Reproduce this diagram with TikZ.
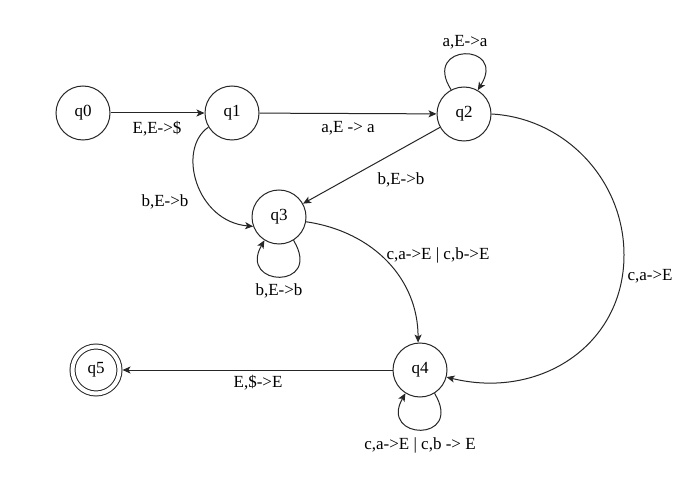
\documentclass[tikz,border=0pt]{standalone}
\usepackage{fontspec}
\setmainfont{Liberation Serif}
\usetikzlibrary{arrows.meta}
\begin{document}
\begin{tikzpicture}[x=1pt,y=-1pt,
  state/.style={draw=black!85, circle, line width=1pt, minimum size=54pt, inner sep=0pt, font=\fontsize{17}{20}\selectfont},
  final/.style={draw=black!85, circle, line width=1pt, double, double distance=4pt, minimum size=47pt, inner sep=0pt, outer sep=3pt, font=\fontsize{17}{20}\selectfont},
  lbl/.style={inner sep=0pt, font=\fontsize{17}{20}\selectfont},
  trans/.style={draw=black!85, line width=1pt, -{Stealth[length=8pt,width=7pt,inset=2pt]}}]
\useasboundingbox (0,0) rectangle (690,486);
\fill[white] (0,0) rectangle (690,486);

\node[state] (q0) at (83,113) {q0};
\node[state] (q1) at (232,113) {q1};
\node[state] (q2) at (464,114) {q2};
\node[state] (q3) at (279,217) {q3};
\node[state] (q4) at (420,370) {q4};
\node[final] (q5) at (96,370) {q5};

\coordinate (c24) at (624,255);

\draw[trans] (q0) -- (q1);
\draw[trans] (q1) -- (q2);
\draw[trans] (q2) -- (q3);
\draw[trans] (q4) -- (q5);
\draw[trans] (q2.118) .. controls +(-30,-47) and +(30,-48) .. (q2.60);
\draw[trans] (q3.-58) .. controls +(30,50) and +(-27,47) .. (q3.-122);
\draw[trans] (q4.-58) .. controls +(30,50) and +(-27,47) .. (q4.-122);
\draw[trans] (q1.211) .. controls +(-32,22) and +(-57,-5) .. (q3.200);
\draw[trans] (q3.-10) .. controls +(68,10) and +(0,-63) .. (q4.94);
\draw[trans] (q2.east) .. controls (565,118) and (624,180) .. (c24)
  .. controls (624,345) and (540,400) .. (q4.-15);

\node[lbl] (l01) at (157,129) {E,E->\$};
\node[lbl] (l12) at (348,128) {a,E -> a};
\node[lbl] (l22) at (465,42) {a,E->a};
\node[lbl] (l23) at (401,180) {b,E->b};
\node[lbl] (l13) at (165,202) {b,E->b};
\node[lbl] (l33) at (279,291) {b,E->b};
\node[lbl] (l34) at (438,255) {c,a->E | c,b->E};
\node[lbl] (l24) at (650,276) {c,a->E};
\node[lbl] (l45) at (258,383) {E,\$->E};
\node[lbl] (l44) at (420,445) {c,a->E | c,b -> E};
\end{tikzpicture}
\end{document}
